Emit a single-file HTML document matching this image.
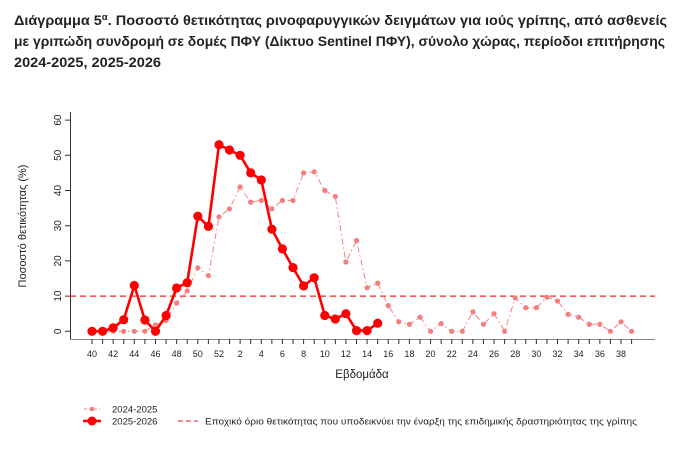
<!DOCTYPE html>
<html><head><meta charset="utf-8"><style>
html,body{margin:0;padding:0;background:#fff;}
svg{display:block;}
</style></head><body>
<svg width="690" height="459" viewBox="0 0 690 459" xmlns="http://www.w3.org/2000/svg">
<defs>
<marker id="mp" markerUnits="userSpaceOnUse" markerWidth="8" markerHeight="8" refX="4" refY="4"><circle cx="4" cy="4" r="2.6" fill="#f47f7f"/></marker>
<marker id="mr" markerUnits="userSpaceOnUse" markerWidth="12" markerHeight="12" refX="6" refY="6"><circle cx="6" cy="6" r="4.6" fill="#ff0000"/></marker>
</defs>
<g font-family="'Liberation Sans','Noto Sans CJK SC',sans-serif" font-weight="bold" font-size="13.5" fill="#222">
<text x="14" y="25" textLength="653" lengthAdjust="spacingAndGlyphs">Διάγραμμα 5<tspan font-size="9" dy="-5">α</tspan><tspan dy="5">. Ποσοστό θετικότητας ρινοφαρυγγικών δειγμάτων για ιούς γρίπης, από ασθενείς</tspan></text>
<text x="14" y="46" textLength="651" lengthAdjust="spacingAndGlyphs">με γριπώδη συνδρομή σε δομές ΠΦΥ (Δίκτυο Sentinel ΠΦΥ), σύνολο χώρας, περίοδοι επιτήρησης</text>
<text x="14" y="67" textLength="147" lengthAdjust="spacingAndGlyphs">2024-2025, 2025-2026</text>
</g>
<g stroke="#333" stroke-width="1" fill="none">
<line x1="70.5" y1="112" x2="70.5" y2="339"/>
<line x1="70" y1="339.5" x2="655" y2="339.5" stroke="#888"/>
<path d="M70 331.3h-5M70 296.1h-5M70 260.9h-5M70 225.7h-5M70 190.5h-5M70 155.3h-5M70 120.1h-5"/>
</g>
<g id="xt" stroke="#333" stroke-width="1"></g>
<g font-family="'Liberation Sans',sans-serif" font-size="10" fill="#222">
<g transform="translate(61,331.3) rotate(-90)"><text text-anchor="middle" x="0" y="0">0</text></g>
<g transform="translate(61,296.1) rotate(-90)"><text text-anchor="middle">10</text></g>
<g transform="translate(61,260.9) rotate(-90)"><text text-anchor="middle">20</text></g>
<g transform="translate(61,225.7) rotate(-90)"><text text-anchor="middle">30</text></g>
<g transform="translate(61,190.5) rotate(-90)"><text text-anchor="middle">40</text></g>
<g transform="translate(61,155.3) rotate(-90)"><text text-anchor="middle">50</text></g>
<g transform="translate(61,120.1) rotate(-90)"><text text-anchor="middle">60</text></g>
<g transform="translate(26,226) rotate(-90)"><text text-anchor="middle" font-size="11">Ποσοστό θετικότητας (%)</text></g>
<text x="362" y="378" text-anchor="middle" font-size="11.5">Εβδομάδα</text>
</g>
<g id="xl" font-family="'Liberation Sans',sans-serif" font-size="9" fill="#222" text-anchor="middle"></g>
<line x1="70" y1="296.1" x2="655" y2="296.1" stroke="#ff2020" stroke-width="1.3" stroke-dasharray="6,4"/>
<polyline fill="none" stroke="#f47f7f" stroke-width="1" stroke-dasharray="6,3,1.5,3" marker-start="url(#mp)" marker-mid="url(#mp)" marker-end="url(#mp)"
points="92,331.3 102.6,331.3 113.2,331.3 123.7,331.3 134.3,331.3 144.9,331.3 155.5,325 166.1,320.7 176.6,303.1 187.2,290.8 197.8,267.9 208.4,275.7 219,216.9 229.5,208.8 240.1,187 250.7,202.1 261.3,200.4 271.9,208.8 282.4,200.4 293,200.4 303.6,172.9 314.2,171.8 324.8,190.5 335.3,196.5 345.9,262 356.5,240.5 367.1,287.7 377.7,283.1 388.2,305.6 398.8,321.8 409.4,324.3 420,317.2 430.6,331.3 441.1,323.6 451.7,331.3 462.3,331.3 472.9,311.9 483.5,324.3 494,313.7 504.6,331.3 515.2,297.9 525.8,307.7 536.4,307.7 546.9,297.2 557.5,301 568.1,314.4 578.7,317.2 589.3,324.3 599.8,324.3 610.4,331.3 621,321.8 631.6,331.3"/>
<polyline fill="none" stroke="#ff0000" stroke-width="2.6" stroke-linejoin="round" marker-start="url(#mr)" marker-mid="url(#mr)" marker-end="url(#mr)"
points="92,331.3 102.6,331.3 113.2,327.8 123.7,319.7 134.3,285.5 144.9,320 155.5,331.3 166.1,315.5 176.6,288 187.2,282.7 197.8,216.2 208.4,226.4 219,144.7 229.5,150 240.1,155.3 250.7,172.9 261.3,180 271.9,229.2 282.4,248.9 293,267.6 303.6,285.9 314.2,277.8 324.8,315.5 335.3,319 345.9,313.7 356.5,330.6 367.1,330.6 377.7,323.2"/>
<g font-family="'Liberation Sans',sans-serif" font-size="9.5" fill="#222">
<line x1="84" y1="409" x2="100" y2="409" stroke="#f47f7f" stroke-width="1" stroke-dasharray="3,2"/>
<circle cx="92" cy="409" r="2.3" fill="#f47f7f"/>
<text x="112" y="412.5">2024-2025</text>
<line x1="83" y1="421" x2="101" y2="421" stroke="#ff0000" stroke-width="2.5"/>
<circle cx="92" cy="421" r="4.5" fill="#ff0000"/>
<text x="112" y="424.5">2025-2026</text>
<line x1="178" y1="421" x2="198" y2="421" stroke="#ff4040" stroke-width="1.3" stroke-dasharray="5,3"/>
<text x="205" y="424.5" textLength="432" lengthAdjust="spacingAndGlyphs">Εποχικό όριο θετικότητας που υποδεικνύει την έναρξη της επιδημικής δραστηριότητας της γρίπης</text>
</g>
<script>
var t=document.getElementById('xt'),l=document.getElementById('xl'),ns='http://www.w3.org/2000/svg';
for(var i=0;i<52;i++){var x=92+i*10.58;var ln=document.createElementNS(ns,'line');ln.setAttribute('x1',x);ln.setAttribute('x2',x);ln.setAttribute('y1',339);ln.setAttribute('y2',344);t.appendChild(ln);
var w=i<13?40+i:i-12; if(w%2==0){var tx=document.createElementNS(ns,'text');tx.setAttribute('x',x);tx.setAttribute('y',357);tx.textContent=w;l.appendChild(tx);}}
</script>
</svg>
</body></html>
